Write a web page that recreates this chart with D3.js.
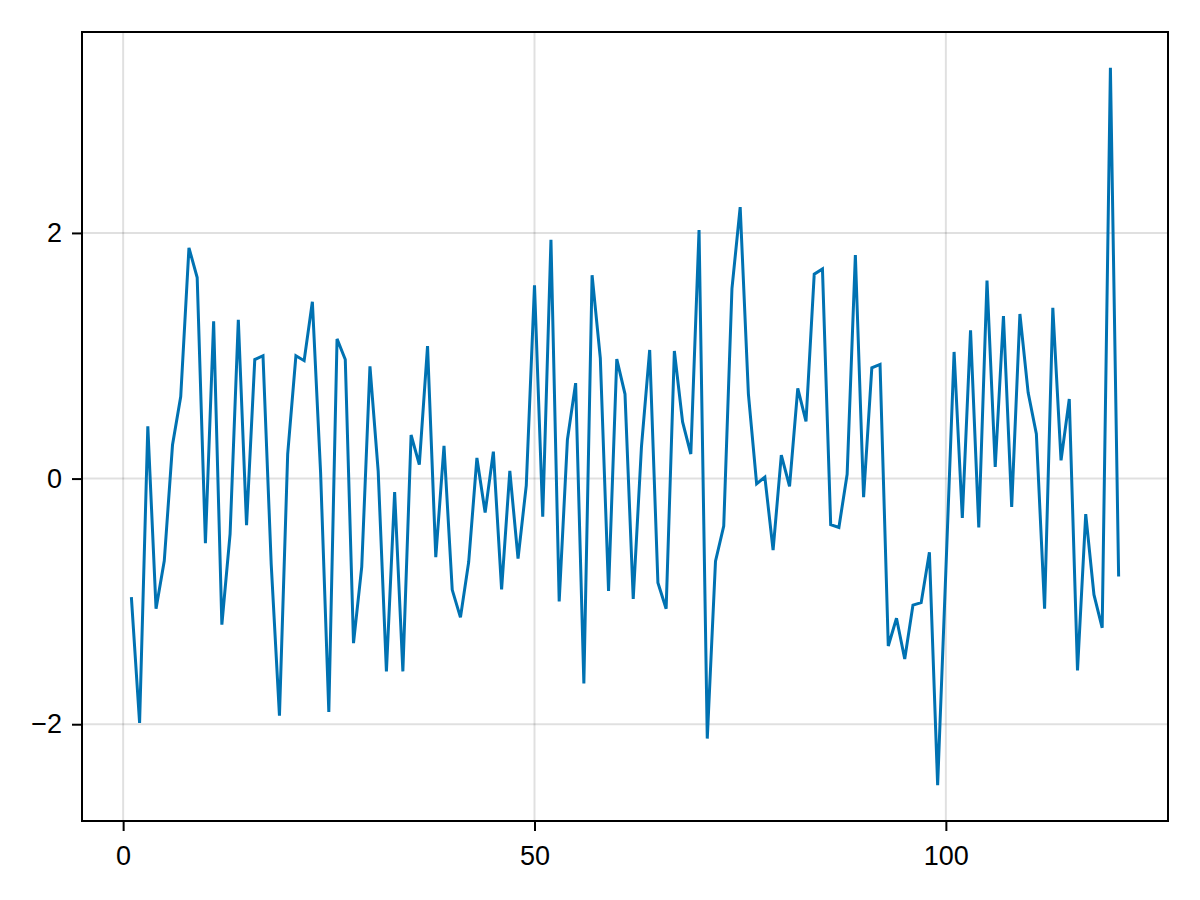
<!DOCTYPE html>
<html>
<head>
<meta charset="utf-8">
<script src="https://cdn.jsdelivr.net/npm/d3@7"></script>
<style>
  html, body { margin: 0; padding: 0; background: #fff; }
  svg { display: block; }
  .tick text { font-family: "Liberation Sans", Arial, Helvetica, sans-serif; }
</style>
</head>
<body>
<svg id="chart" width="1200" height="900"></svg>
<script>
// Data: series values for x = 1..121
const values = [
  -0.965, -1.99, 0.426, -1.06, -0.67, 0.273, 0.668, 1.879, 1.637, -0.527,
  1.281, -1.19, -0.45, 1.293, -0.379, 0.969, 1.0, -0.70, -1.93, 0.2,
  1.0, 0.96, 1.44, 0.05, -1.90, 1.137, 0.97, -1.34, -0.72, 0.914,
  0.06, -1.57, -0.11, -1.57, 0.355, 0.113, 1.078, -0.64, 0.266, -0.906,
  -1.13, -0.68, 0.168, -0.277, 0.219, -0.902, 0.0625, -0.652, -0.055, 1.574,
  -0.31, 1.945, -1.0, 0.316, 0.777, -1.668, 1.656, 0.98, -0.914, 0.973,
  0.688, -0.98, 0.258, 1.047, -0.848, -1.06, 1.039, 0.461, 0.2, 2.023,
  -2.117, -0.672, -0.387, 1.547, 2.21, 0.688, -0.043, 0.012, -0.582, 0.191,
  -0.0625, 0.734, 0.465, 1.664, 1.707, -0.375, -0.398, 0.035, 1.82, -0.152,
  0.902, 0.93, -1.363, -1.137, -1.469, -1.03, -1.01, -0.6, -2.496, -0.75,
  1.031, -0.32, 1.207, -0.398, 1.613, 0.094, 1.324, -0.23, 1.34, 0.70,
  0.363, -1.059, 1.39, 0.148, 0.648, -1.5625, -0.289, -0.945, -1.215, 3.344,
  -0.797
];
const xs = values.map((_, i) => i + 1);
const xTicks = [0, 50, 100];
const yTicks = [-2, 0, 2];

const W = 1200, H = 900;
const margin = { left: 82, top: 32, right: 32, bottom: 79 };
const iw = W - margin.left - margin.right;
const ih = H - margin.top - margin.bottom;

const data = xs.map((x, i) => ({ x, y: values[i] }));

function padded(ext) {
  const p = (ext[1] - ext[0]) * 0.05;
  return [ext[0] - p, ext[1] + p];
}

const x = d3.scaleLinear().domain(padded(d3.extent(xs))).range([0, iw]);
const y = d3.scaleLinear().domain(padded(d3.extent(values))).range([ih, 0]);

const svg = d3.select("#chart");
const g = svg.append("g").attr("transform", `translate(${margin.left},${margin.top})`);

// Grid lines
g.append("g").selectAll("line.gx").data(xTicks).join("line")
  .attr("x1", d => x(d)).attr("x2", d => x(d))
  .attr("y1", 0).attr("y2", ih)
  .attr("stroke", "#000").attr("stroke-opacity", 0.12).attr("stroke-width", 2);
g.append("g").selectAll("line.gy").data(yTicks).join("line")
  .attr("y1", d => y(d)).attr("y2", d => y(d))
  .attr("x1", 0).attr("x2", iw)
  .attr("stroke", "#000").attr("stroke-opacity", 0.12).attr("stroke-width", 2);

// Line
const line = d3.line().x(d => x(d.x)).y(d => y(d.y));
g.append("path").datum(data)
  .attr("fill", "none")
  .attr("stroke", "#0072b2")
  .attr("stroke-width", 3)
  .attr("stroke-linejoin", "miter")
  .attr("stroke-miterlimit", 4)
  .attr("d", line);

// Axes
const fmt = d => d < 0 ? "\u2212" + Math.abs(d) : String(d);
const xAxis = d3.axisBottom(x).tickValues(xTicks).tickSize(10).tickPadding(15).tickFormat(fmt);
const yAxis = d3.axisLeft(y).tickValues(yTicks).tickSize(10).tickPadding(10).tickFormat(fmt);

const gx = g.append("g").attr("transform", `translate(0,${ih})`).call(xAxis);
const gy = g.append("g").call(yAxis);
[gx, gy].forEach(a => {
  a.select(".domain").remove();
  a.selectAll(".tick line").attr("stroke", "#000").attr("stroke-width", 2);
  a.selectAll(".tick text").attr("fill", "#000").attr("font-size", 27);
});

// Frame (spines)
g.append("rect").attr("x", 0).attr("y", 0).attr("width", iw).attr("height", ih)
  .attr("fill", "none").attr("stroke", "#000").attr("stroke-width", 2);
</script>
</body>
</html>
